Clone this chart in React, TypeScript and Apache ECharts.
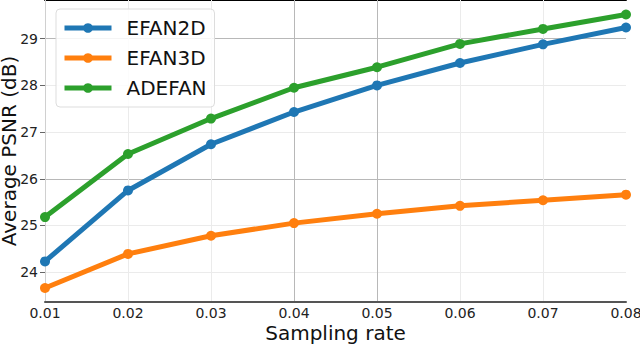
import React, { useEffect, useRef } from "react";
import * as echarts from "echarts";

const rates = ["0.01", "0.02", "0.03", "0.04", "0.05", "0.06", "0.07", "0.08"];
const efan2d = [24.23, 25.75, 26.74, 27.43, 28.0, 28.48, 28.88, 29.24];
const efan3d = [23.66, 24.39, 24.78, 25.05, 25.25, 25.42, 25.54, 25.66];
const adefan = [25.18, 26.53, 27.29, 27.95, 28.39, 28.89, 29.21, 29.52];

const LIGHT = "#ebebeb";
const DARK = "#b8b8b8";
const FONT = "DejaVu Sans";

export default function App() {
  const ref = useRef<HTMLDivElement>(null);
  useEffect(() => {
    if (!ref.current) return;
    const chart = echarts.init(ref.current, null, { renderer: "svg" });
    const mk = (name: string, data: number[], color: string) => ({
      name,
      type: "line",
      data,
      color,
      symbol: "circle",
      symbolSize: 10,
      lineStyle: { width: 5, color },
      itemStyle: { color },
      clip: true,
      z: 3,
    });
    chart.setOption({
      animation: false,
      textStyle: { fontFamily: FONT },
      grid: { left: 45, right: 14, top: 0, bottom: 42, containLabel: false, outerBoundsMode: "none" },
      legend: {
        orient: "vertical",
        left: 56,
        top: 9,
        padding: [9, 8, 9, 6],
        itemGap: 10,
        itemWidth: 47,
        itemHeight: 12,
        backgroundColor: "rgba(255,255,255,0.85)",
        borderColor: "#dddddd",
        borderWidth: 1,
        borderRadius: 4,
        lineStyle: { width: 5 },
        textStyle: { fontSize: 20, color: "#111", fontFamily: FONT, padding: [0, 0, 0, 10] },
        data: ["EFAN2D", "EFAN3D", "ADEFAN"],
      },
      xAxis: [
        {
          type: "category",
          data: rates,
          boundaryGap: false,
          name: "Sampling rate",
          nameLocation: "middle",
          nameGap: 21,
          nameMoveOverlap: false,
          nameTextStyle: { fontSize: 20, color: "#111", fontFamily: FONT, verticalAlign: "top" },
          axisLine: { show: true, lineStyle: { color: "#555", width: 2 } },
          axisTick: { show: false },
          axisLabel: { fontSize: 14, color: "#222", margin: 4, fontFamily: FONT },
          splitLine: {
            show: true,
            lineStyle: { color: ["#d0d0d0", LIGHT, LIGHT, DARK, DARK, LIGHT, LIGHT, "rgba(0,0,0,0)"], width: 1 },
          },
          z: 2,
        },
        {
          type: "category",
          data: rates,
          boundaryGap: false,
          position: "top",
          axisLine: { show: true, lineStyle: { color: "#000", width: 2 } },
          axisTick: { show: false },
          axisLabel: { show: false },
          splitLine: { show: false },
        },
      ],
      yAxis: {
        type: "value",
        min: 23.36,
        max: 29.83,
        splitNumber: 5,
        name: "Average PSNR (dB)",
        nameLocation: "middle",
        nameGap: 26,
        nameMoveOverlap: false,
        nameTextStyle: { fontSize: 20, color: "#111", fontFamily: FONT },
        axisLine: { show: false },
        axisTick: { show: true, length: 5, lineStyle: { color: "#666" } },
        axisLabel: {
          fontSize: 14,
          color: "#222",
          margin: 7,
          fontFamily: FONT,
          showMinLabel: false,
          showMaxLabel: false,
        },
        splitLine: {
          show: true,
          lineStyle: { color: [DARK, LIGHT, LIGHT], width: 1 },
        },
      },
      series: [
        mk("EFAN2D", efan2d, "#1f77b4"),
        mk("EFAN3D", efan3d, "#ff7f0e"),
        mk("ADEFAN", adefan, "#2ca02c"),
      ],
    });
    return () => chart.dispose();
  }, []);
  return <div ref={ref} style={{ width: 640, height: 344, position: "absolute", left: 0, top: 0 }} />;
}
